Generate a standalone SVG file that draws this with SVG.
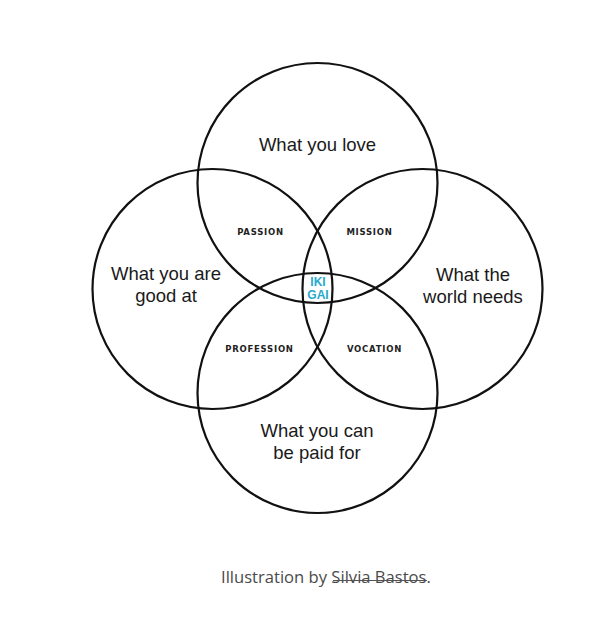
<svg xmlns="http://www.w3.org/2000/svg" width="593" height="618" viewBox="0 0 593 618">
<style>
.c{fill:none;stroke:#111;stroke-width:2.2}
.t{font-family:"Liberation Sans",Arial,sans-serif;font-size:18.5px;fill:#1a1a1a;text-anchor:middle}
.s{font-family:"DejaVu Sans",sans-serif;font-weight:bold;font-size:8.5px;fill:#222;text-anchor:middle;letter-spacing:0.75px}
.k{font-family:"Liberation Sans",Arial,sans-serif;font-weight:bold;font-size:12px;fill:#27a9cc;text-anchor:middle}
.cap{font-family:"Open Sans",sans-serif;font-size:16.6px;fill:#4a4a4a}
</style>
<rect width="593" height="618" fill="#fff"/>
<g id="connectors"></g>
<g id="circle-love"><circle class="c" cx="317.5" cy="183" r="120"/><text class="t" x="317.5" y="151">What you love</text></g>
<g id="circle-good"><circle class="c" cx="212.5" cy="289" r="120"/><text class="t" x="166" y="280">What you are</text><text class="t" x="166" y="302">good at</text></g>
<g id="circle-needs"><circle class="c" cx="422.5" cy="289" r="120"/><text class="t" x="473" y="281">What the</text><text class="t" x="473" y="303">world needs</text></g>
<g id="circle-paid"><circle class="c" cx="317.5" cy="393" r="120"/><text class="t" x="317" y="437">What you can</text><text class="t" x="317" y="459">be paid for</text></g>
<g id="passion"><text class="s" x="260.5" y="234.5">PASSION</text></g>
<g id="mission"><text class="s" x="369.5" y="234.5">MISSION</text></g>
<g id="profession"><text class="s" x="259.5" y="351.5">PROFESSION</text></g>
<g id="vocation"><text class="s" x="374.5" y="351.5">VOCATION</text></g>
<g id="ikigai"><text class="k" x="318" y="286">IKI</text><text class="k" x="318" y="298.5">GAI</text></g>
<g id="caption"><text class="cap" x="221" y="583">Illustration by Silvia Bastos.</text><line x1="333" y1="580.5" x2="427" y2="580.5" stroke="#555" stroke-width="1"/></g>
</svg>
